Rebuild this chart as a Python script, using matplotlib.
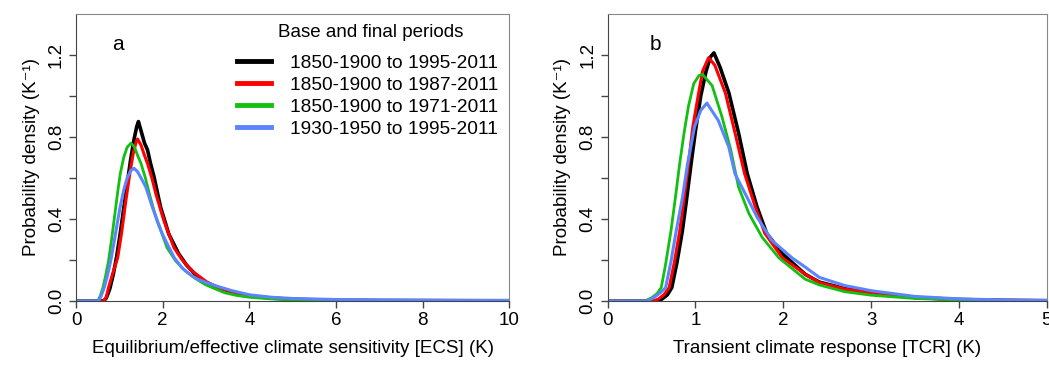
import numpy as np
import matplotlib
matplotlib.use("Agg")
import matplotlib.pyplot as plt

plt.rcParams['font.family'] = ['Liberation Sans', 'DejaVu Sans']

labels = ["1850-1900 to 1995-2011", "1850-1900 to 1987-2011",
          "1850-1900 to 1971-2011", "1930-1950 to 1995-2011"]
colors = ["#000000", "#ff0000", "#11c011", "#5a85ff"]
widths = [2.6, 2.2, 2.0, 2.2]

# panel a: ECS densities
ecs_black_x = [0, 0.64, 0.7, 0.78, 0.86, 0.94, 1.02, 1.1, 1.18, 1.26, 1.34, 1.4, 1.44, 1.5, 1.58, 1.65,
               1.72, 1.8, 1.95, 2.14, 2.37, 2.55, 2.75, 3.0, 3.28, 3.6, 4.0, 4.5, 5.0, 6.0, 7.0, 8.0, 9.0, 10]
ecs_black_y = [0, 0, 0.015, 0.06, 0.13, 0.22, 0.33, 0.45, 0.57, 0.69, 0.79, 0.85, 0.875, 0.83, 0.77, 0.736,
               0.67, 0.605, 0.458, 0.327, 0.23, 0.175, 0.13, 0.09, 0.065, 0.045, 0.025, 0.014, 0.008, 0.003,
               0.002, 0.0015, 0.001, 0.0005]
ecs_red_x = [0, 0.64, 0.7, 0.75, 0.84, 0.96, 1.05, 1.15, 1.24, 1.32, 1.38, 1.42, 1.5, 1.58, 1.65, 1.75,
             1.84, 2.03, 2.26, 2.45, 2.67, 3.0, 3.28, 3.6, 4.0, 4.5, 5.0, 6.0, 7.0, 8.0, 10]
ecs_red_y = [0, 0, 0.02, 0.065, 0.13, 0.21, 0.33, 0.49, 0.62, 0.72, 0.77, 0.79, 0.76, 0.71, 0.67, 0.6,
             0.524, 0.39, 0.26, 0.2, 0.147, 0.095, 0.065, 0.045, 0.026, 0.015, 0.008, 0.003, 0.002, 0.001, 0.0005]
ecs_green_x = [0, 0.5, 0.56, 0.62, 0.68, 0.75, 0.82, 0.9, 0.96, 1.02, 1.1, 1.18, 1.27, 1.35, 1.42, 1.5,
               1.6, 1.69, 1.78, 1.87, 1.98, 2.1, 2.3, 2.52, 2.75, 2.98, 3.2, 3.43, 3.7, 4.0, 4.5, 5.0, 6.0, 7.0, 10]
ecs_green_y = [0, 0, 0.025, 0.065, 0.12, 0.196, 0.3, 0.43, 0.53, 0.62, 0.7, 0.75, 0.77, 0.75, 0.71, 0.67,
               0.6, 0.524, 0.455, 0.39, 0.33, 0.26, 0.195, 0.147, 0.11, 0.08, 0.06, 0.04, 0.027, 0.018, 0.01,
               0.006, 0.002, 0.001, 0.0]
ecs_blue_x = [0, 0.52, 0.58, 0.65, 0.72, 0.8, 0.88, 0.96, 1.02, 1.1, 1.18, 1.26, 1.34, 1.42, 1.5, 1.61,
              1.76, 1.99, 2.26, 2.45, 2.67, 2.82, 3.0, 3.28, 3.6, 4.0, 4.5, 5.0, 6.0, 7.0, 8.0, 9.0, 10]
ecs_blue_y = [0, 0, 0.025, 0.065, 0.12, 0.196, 0.29, 0.39, 0.46, 0.54, 0.6, 0.635, 0.647, 0.63, 0.6, 0.556,
              0.458, 0.327, 0.213, 0.16, 0.123, 0.105, 0.09, 0.07, 0.05, 0.03, 0.018, 0.012, 0.007, 0.005,
              0.004, 0.003, 0.003]

# panel b: TCR densities
tcr_black_x = [0, 0.56, 0.62, 0.68, 0.73, 0.79, 0.85, 0.9, 0.95, 1.0, 1.06, 1.12, 1.17, 1.21, 1.28, 1.38,
               1.49, 1.59, 1.7, 1.81, 1.99, 2.25, 2.41, 2.7, 3.0, 3.5, 4.0, 4.5, 5]
tcr_black_y = [0, 0, 0.01, 0.03, 0.065, 0.19, 0.34, 0.5, 0.67, 0.83, 1.0, 1.12, 1.19, 1.21, 1.14, 1.015,
               0.82, 0.62, 0.46, 0.33, 0.23, 0.13, 0.092, 0.06, 0.04, 0.017, 0.007, 0.003, 0.001]
tcr_red_x = [0, 0.52, 0.58, 0.64, 0.70, 0.76, 0.82, 0.87, 0.92, 0.97, 1.03, 1.08, 1.15, 1.22, 1.34, 1.45,
             1.56, 1.68, 1.79, 1.99, 2.25, 2.41, 2.7, 3.0, 3.5, 4.0, 4.5, 5]
tcr_red_y = [0, 0, 0.01, 0.03, 0.065, 0.19, 0.34, 0.5, 0.67, 0.85, 1.0, 1.12, 1.187, 1.15, 1.015, 0.82,
             0.62, 0.46, 0.33, 0.21, 0.13, 0.09, 0.058, 0.038, 0.016, 0.006, 0.003, 0.001]
tcr_green_x = [0, 0.42, 0.5, 0.56, 0.61, 0.66, 0.72, 0.77, 0.82, 0.87, 0.92, 0.98, 1.04, 1.08, 1.19, 1.3,
               1.4, 1.49, 1.61, 1.76, 1.95, 2.25, 2.41, 2.7, 3.0, 3.5, 4.0, 4.5, 5]
tcr_green_y = [0, 0, 0.015, 0.035, 0.065, 0.18, 0.34, 0.5, 0.67, 0.82, 0.95, 1.06, 1.1, 1.105, 1.05, 0.9,
               0.74, 0.556, 0.425, 0.31, 0.21, 0.106, 0.078, 0.045, 0.028, 0.012, 0.005, 0.002, 0.001]
tcr_blue_x = [0, 0.45, 0.52, 0.6, 0.66, 0.72, 0.78, 0.85, 0.91, 0.99, 1.06, 1.13, 1.26, 1.38, 1.45, 1.57,
              1.7, 1.87, 2.1, 2.25, 2.41, 2.7, 3.0, 3.5, 4.0, 4.5, 5]
tcr_blue_y = [0, 0, 0.015, 0.04, 0.065, 0.19, 0.34, 0.5, 0.67, 0.85, 0.93, 0.965, 0.88, 0.75, 0.62, 0.52,
              0.41, 0.295, 0.21, 0.165, 0.115, 0.075, 0.05, 0.022, 0.01, 0.005, 0.003]

ecs = [(ecs_black_x, ecs_black_y), (ecs_red_x, ecs_red_y), (ecs_green_x, ecs_green_y), (ecs_blue_x, ecs_blue_y)]
tcr = [(tcr_black_x, tcr_black_y), (tcr_red_x, tcr_red_y), (tcr_green_x, tcr_green_y), (tcr_blue_x, tcr_blue_y)]

yticks = [0.0, 0.2, 0.4, 0.6, 0.8, 1.0, 1.2]
ytick_labels = ["0.0", "", "0.4", "", "0.8", "", "1.2"]
fs = 13.5

fig = plt.figure(figsize=(10.49, 3.67), dpi=100)
ax1 = fig.add_axes([0.0725, 0.180, 0.413, 0.782])
ax2 = fig.add_axes([0.5793, 0.180, 0.4185, 0.782])


def style(ax, xmax, xticks, xlabel, tag, tag_x):
    ax.set_xlim(0, xmax)
    ax.set_ylim(0, 1.4)
    ax.set_xticks(xticks)
    ax.set_xticklabels([str(t) for t in xticks], fontsize=fs)
    ax.set_yticks(yticks)
    ax.set_yticklabels(ytick_labels, fontsize=fs, rotation=90, va="center")
    ax.tick_params(direction="out", length=5, width=1, color="#444444", pad=3)
    for side in ["top", "right"]:
        ax.spines[side].set_color("#888888")
    for side in ["left", "bottom"]:
        ax.spines[side].set_color("#444444")
    ax.set_xlabel(xlabel, fontsize=fs, labelpad=8)
    ax.set_ylabel("Probability density (K\u207b\u00b9)", fontsize=fs, labelpad=6)
    ax.text(tag_x, 1.25, tag, fontsize=15, ha="center", va="center")


for (x, y), c, lw, lab in zip(ecs, colors, widths, labels):
    ax1.plot(x, y, color=c, lw=lw, label=lab, solid_joinstyle="round")
for (x, y), c, lw in zip(tcr, colors, widths):
    ax2.plot(x, y, color=c, lw=lw, solid_joinstyle="round")

style(ax1, 10, [0, 2, 4, 6, 8, 10], "Equilibrium/effective climate sensitivity [ECS] (K)", "a", 0.97)
style(ax2, 5, [0, 1, 2, 3, 4, 5], "Transient climate response [TCR] (K)", "b", 0.54)

ax1.text(0.68, 0.934, "Base and final periods", transform=ax1.transAxes,
         fontsize=fs, ha="center", va="center")
leg = ax1.legend(loc="upper left", bbox_to_anchor=(0.372, 0.86), frameon=False, fontsize=13.8,
                 handlelength=1.75, handletextpad=1.0, labelspacing=0.24, borderaxespad=0.0,
                 borderpad=0.0)
for h in leg.get_lines():
    h.set_linewidth(3.5)

fig.savefig("out.png", dpi=100)
